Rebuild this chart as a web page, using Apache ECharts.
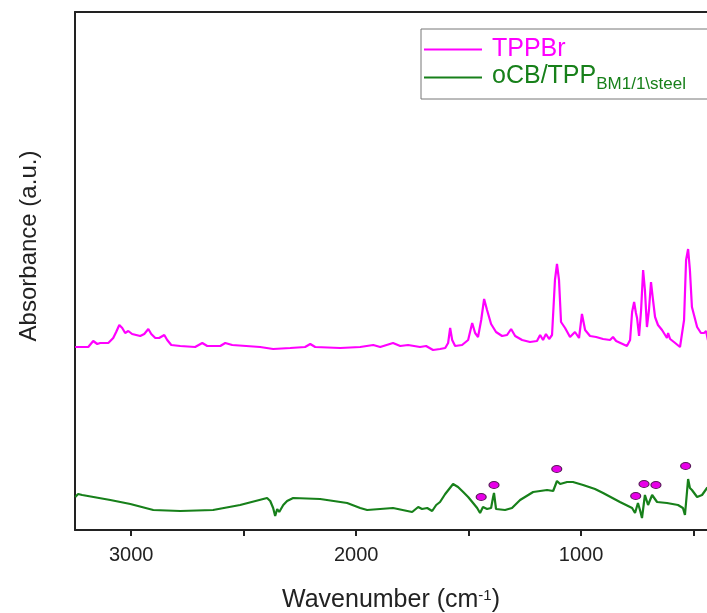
<!DOCTYPE html>
<html>
<head>
<meta charset="utf-8">
<script src="https://cdn.jsdelivr.net/npm/echarts@6/dist/echarts.min.js"></script>
<style>
html,body{margin:0;padding:0;background:#fff;}
#chart{width:707px;height:613px;}
</style>
</head>
<body>
<div id="chart"></div>
<script>
// Wavenumbers (cm-1) and absorbance (a.u.)
const tppbrWave = [3249,3191,3169,3151,3138,3102,3080,3067,3053,3040,3027,3013,2996,2978,2960,2942,2924,2911,2893,2876,2853,2840,2822,2782,2716,2684,2662,2604,2582,2551,2427,2369,2293,2227,2204,2182,2071,1982,1924,1893,1836,1804,1769,1716,1689,1658,1627,1604,1591,1582,1573,1560,1529,1502,1484,1471,1458,1444,1431,1418,1400,1378,1351,1329,1311,1293,1262,1227,1196,1182,1169,1156,1142,1129,1116,1107,1098,1089,1071,1049,1027,1009,996,982,960,933,902,871,858,844,796,782,773,764,756,751,742,733,724,716,707,698,689,680,671,658,640,618,613,604,587,560,542,533,524,516,507,484,467,453,444,436,418,400];
const tppbrAbs = [1.83,1.83,1.89,1.86,1.87,1.87,1.92,1.98,2.05,2.02,1.97,1.99,1.96,1.95,1.94,1.96,2.01,1.96,1.92,1.92,1.95,1.90,1.85,1.84,1.83,1.87,1.84,1.84,1.87,1.85,1.83,1.81,1.82,1.83,1.86,1.83,1.82,1.83,1.85,1.83,1.87,1.84,1.85,1.83,1.84,1.80,1.81,1.82,1.87,2.02,1.90,1.84,1.85,1.90,2.07,1.97,1.93,2.10,2.31,2.20,2.06,1.98,1.94,1.95,2.01,1.94,1.90,1.88,1.89,1.95,1.90,1.96,1.91,1.95,2.50,2.66,2.50,2.08,2.02,1.93,1.98,1.92,2.16,2.00,1.94,1.93,1.91,1.90,1.93,1.89,1.84,1.90,2.18,2.28,2.17,2.12,1.94,2.20,2.60,2.40,2.03,2.20,2.48,2.30,2.13,2.05,2.00,1.92,1.97,1.91,1.88,1.83,2.10,2.70,2.81,2.60,2.23,2.03,1.97,1.97,1.99,1.90,1.85,1.83];

const ocbWave = [3249,3236,3218,3093,3004,2902,2782,2636,2516,2396,2382,2369,2360,2351,2342,2324,2307,2280,2160,2040,1982,1951,1836,1751,1724,1707,1684,1662,1644,1627,1604,1569,1547,1524,1502,1480,1462,1449,1436,1418,1400,1391,1387,1378,1338,1307,1271,1213,1151,1124,1116,1107,1093,1062,1036,991,938,902,827,773,760,747,738,729,716,702,684,662,618,569,547,538,529,524,516,507,484,462,440,400];
const ocbAbs = [0.33,0.36,0.35,0.30,0.26,0.20,0.19,0.20,0.25,0.32,0.29,0.22,0.14,0.21,0.18,0.25,0.29,0.32,0.31,0.27,0.22,0.20,0.22,0.18,0.23,0.21,0.22,0.19,0.25,0.28,0.36,0.46,0.43,0.38,0.33,0.27,0.22,0.17,0.23,0.21,0.22,0.33,0.37,0.21,0.20,0.22,0.30,0.38,0.40,0.39,0.38,0.49,0.46,0.48,0.48,0.45,0.41,0.37,0.28,0.22,0.17,0.27,0.20,0.12,0.35,0.25,0.35,0.28,0.27,0.25,0.22,0.15,0.38,0.51,0.42,0.40,0.33,0.35,0.42,0.46];

// TPPBr band markers on the oCB/TPP spectrum
const markWave = [1444,1387,1108,757,720,667,535];
const markAbs = [0.33,0.45,0.61,0.34,0.46,0.45,0.64];

const xTickValues = [3000,2500,2000,1500,1000,500];
const xLabelValues = [3000,2000,1000];

const seriesNames = ['TPPBr','oCB/TPP'];
const FONT = '"Liberation Sans", Arial, sans-serif';
const MAGENTA = '#ff00ff';
const GREEN = '#17801a';
const AXIS = '#222';

const zip = (a,b) => a.map((v,i)=>[v,b[i]]);

const chart = echarts.init(document.getElementById('chart'), null, {renderer:'canvas'});
chart.setOption({
  animation:false,
  backgroundColor:'#fff',
  grid:{left:75, top:12, bottom:83, right:0, show:false, containLabel:false, outerBoundsMode:'none'},
  xAxis:[{
    type:'value', inverse:true, min:440, max:3250,
    splitLine:{show:false},
    axisLine:{show:true, onZero:false, lineStyle:{color:AXIS, width:2}},
    axisTick:{show:true, customValues:xTickValues, length:6, inside:false, lineStyle:{color:AXIS, width:2}},
    axisLabel:{customValues:xLabelValues, fontSize:20, fontFamily:FONT, color:AXIS, margin:15,
      formatter:function(v){return String(v);}},
    name:'Wavenumber (cm{sup|-1})',
    nameLocation:'middle', nameGap:58,
    nameTextStyle:{fontSize:25, fontFamily:FONT, color:AXIS,
      rich:{sup:{fontSize:15, fontFamily:FONT, color:AXIS, verticalAlign:'top', padding:[0,0,10,0]}}}
  },{
    type:'value', inverse:true, min:440, max:3250, position:'top',
    splitLine:{show:false},
    axisLine:{show:true, onZero:false, lineStyle:{color:AXIS, width:2}},
    axisTick:{show:false}, axisLabel:{show:false}
  }],
  yAxis:{
    type:'value', min:0, max:5.18,
    splitLine:{show:false},
    axisLine:{show:true, onZero:false, lineStyle:{color:AXIS, width:2}},
    axisTick:{show:false},
    axisLabel:{show:false}
  },
  graphic:[{
    type:'text', x:29, y:246, rotation:Math.PI/2,
    style:{text:'Absorbance (a.u.)', fontSize:24, fontFamily:FONT, fill:AXIS,
      textAlign:'center', textVerticalAlign:'middle'}
  }],
  legend:{
    data:[
      {name:'TPPBr', textStyle:{color:MAGENTA}},
      {name:'oCB/TPP', textStyle:{color:GREEN}}
    ],
    orient:'vertical', left:421, top:29,
    backgroundColor:'#fff', borderColor:'#777', borderWidth:1,
    padding:[8,30,6,3], itemGap:2, itemWidth:58, itemHeight:14,
    icon:'path://M0,6L58,6L58,8L0,8Z',
    textStyle:{fontSize:25, fontFamily:FONT, padding:[0,0,0,5],
      rich:{
        a:{fontSize:25, fontFamily:FONT, color:GREEN, verticalAlign:'top', lineHeight:27},
        b:{fontSize:17, fontFamily:FONT, color:GREEN, verticalAlign:'top', lineHeight:17, padding:[12,0,0,0]}
      }},
    formatter:function(n){ return n==='oCB/TPP' ? '{a|oCB/TPP}{b|BM1/1\\steel}' : n; }
  },
  series:[
    {name:seriesNames[0], type:'line', data:zip(tppbrWave,tppbrAbs), showSymbol:false, symbol:'none',
     lineStyle:{color:MAGENTA, width:2.2}, itemStyle:{color:MAGENTA},
     emphasis:{disabled:true}, clip:true},
    {name:seriesNames[1], type:'line', data:zip(ocbWave,ocbAbs), showSymbol:false, symbol:'none',
     lineStyle:{color:GREEN, width:2.2}, itemStyle:{color:GREEN},
     emphasis:{disabled:true}, clip:true},
    {name:'markers', type:'scatter', data:zip(markWave,markAbs), symbol:'circle', symbolSize:[10,7],
     itemStyle:{color:'#e800e8', borderColor:'#5a1a5a', borderWidth:1, opacity:1}, z:5}
  ]
});
</script>
</body>
</html>
